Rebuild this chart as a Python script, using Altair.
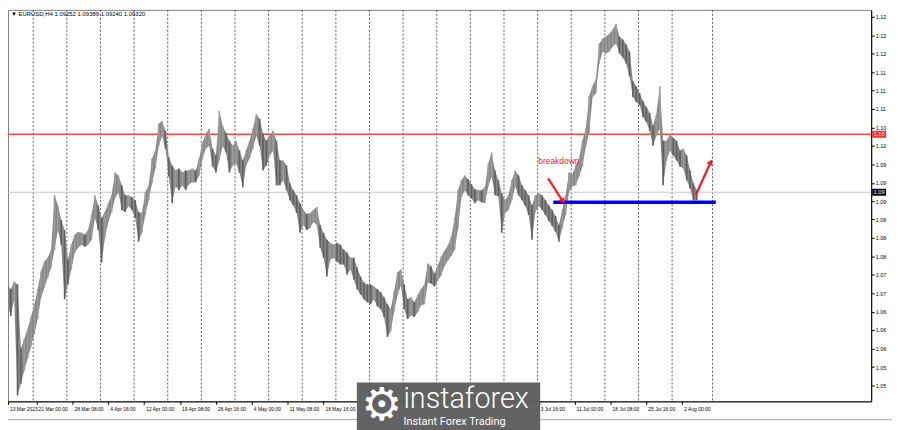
import altair as alt
import pandas as pd

# EURUSD H4: high / low read every 3 bars (bar index from chart start)
highs = [1.0754, 1.0750, 1.0740, 1.0756, 1.0750, 1.0620, 1.0640, 1.0660, 1.0684, 1.0710,
         1.0740, 1.0776, 1.0796, 1.0804, 1.0820, 1.0930, 1.0910, 1.0880, 1.0860, 1.0800,
         1.0830, 1.0850, 1.0856, 1.0854, 1.0850, 1.0860, 1.0890, 1.0930, 1.0910, 1.0884,
         1.0896, 1.0914, 1.0930, 1.0976, 1.0970, 1.0950, 1.0930, 1.0930, 1.0926, 1.0920,
         1.0896, 1.0894, 1.0936, 1.0950, 1.1004, 1.1020, 1.1074, 1.1080, 1.1060, 1.1006,
         1.0990, 1.0980, 1.0984, 1.0976, 1.0980, 1.0980, 1.0984, 1.0980, 1.1004, 1.1036,
         1.1054, 1.1064, 1.1024, 1.1010, 1.1100, 1.1070, 1.1056, 1.1040, 1.1030, 1.1040,
         1.1020, 1.1000, 1.1020, 1.1040, 1.1064, 1.1094, 1.1084, 1.1054, 1.1040, 1.1050,
         1.1060, 1.1040, 1.1000, 1.1000, 1.0990, 1.0954, 1.0940, 1.0930, 1.0914, 1.0900,
         1.0892, 1.0894, 1.0900, 1.0906, 1.0870, 1.0854, 1.0840, 1.0834, 1.0830, 1.0834,
         1.0830, 1.0820, 1.0814, 1.0804, 1.0804, 1.0784, 1.0766, 1.0754, 1.0750, 1.0750,
         1.0746, 1.0740, 1.0734, 1.0724, 1.0710, 1.0700, 1.0736, 1.0774, 1.0780, 1.0750,
         1.0720, 1.0724, 1.0714, 1.0728, 1.0740, 1.0750, 1.0792, 1.0786, 1.0772, 1.0788,
         1.0806, 1.0818, 1.0828, 1.0846, 1.0884, 1.0940, 1.0960, 1.0970, 1.0962, 1.0952,
         1.0942, 1.0940, 1.0940, 1.0946, 1.0994, 1.1016, 1.0980, 1.0960, 1.0934, 1.0920,
         1.0930, 1.0960, 1.0980, 1.0970, 1.0950, 1.0940, 1.0930, 1.0910, 1.0930, 1.0934,
         1.0930, 1.0920, 1.0910, 1.0900, 1.0888, 1.0870, 1.0900, 1.0930, 1.0976, 1.0972,
         1.0990, 1.1004, 1.1040, 1.1064, 1.1130, 1.1150, 1.1164, 1.1236, 1.1246, 1.1250,
         1.1256, 1.1264, 1.1276, 1.1250, 1.1244, 1.1234, 1.1220, 1.1160, 1.1150, 1.1136,
         1.1120, 1.1108, 1.1096, 1.1070, 1.1094, 1.1150, 1.1040, 1.1040, 1.1052, 1.1046,
         1.1040, 1.1020, 1.1024, 1.1010, 1.0980, 1.0954, 1.0940]
lows = [1.0720, 1.0710, 1.0686, 1.0720, 1.0526, 1.0550, 1.0576, 1.0600, 1.0624, 1.0650,
        1.0680, 1.0724, 1.0744, 1.0764, 1.0784, 1.0820, 1.0860, 1.0830, 1.0720, 1.0750,
        1.0780, 1.0814, 1.0824, 1.0830, 1.0826, 1.0830, 1.0840, 1.0884, 1.0860, 1.0794,
        1.0844, 1.0876, 1.0896, 1.0924, 1.0936, 1.0900, 1.0896, 1.0908, 1.0900, 1.0884,
        1.0836, 1.0854, 1.0890, 1.0920, 1.0954, 1.0984, 1.1030, 1.1050, 1.1024, 1.0968,
        1.0914, 1.0948, 1.0940, 1.0950, 1.0940, 1.0952, 1.0956, 1.0956, 1.0970, 1.1004,
        1.1024, 1.1030, 1.0988, 1.0976, 1.1000, 1.1030, 1.1016, 1.0976, 1.0990, 1.0994,
        1.0976, 1.0946, 1.0990, 1.1004, 1.1024, 1.1050, 1.1030, 1.0980, 1.0990, 1.1010,
        1.1020, 1.0950, 1.0950, 1.0960, 1.0940, 1.0920, 1.0910, 1.0894, 1.0854, 1.0870,
        1.0860, 1.0864, 1.0876, 1.0870, 1.0824, 1.0804, 1.0766, 1.0800, 1.0804, 1.0796,
        1.0790, 1.0790, 1.0770, 1.0780, 1.0760, 1.0740, 1.0730, 1.0720, 1.0714, 1.0710,
        1.0720, 1.0706, 1.0700, 1.0684, 1.0644, 1.0656, 1.0696, 1.0728, 1.0748, 1.0700,
        1.0680, 1.0688, 1.0684, 1.0694, 1.0708, 1.0710, 1.0754, 1.0752, 1.0746, 1.0758,
        1.0768, 1.0788, 1.0798, 1.0808, 1.0820, 1.0864, 1.0926, 1.0940, 1.0930, 1.0924,
        1.0914, 1.0920, 1.0916, 1.0914, 1.0948, 1.0968, 1.0930, 1.0928, 1.0854, 1.0894,
        1.0900, 1.0920, 1.0948, 1.0930, 1.0920, 1.0908, 1.0890, 1.0840, 1.0896, 1.0908,
        1.0900, 1.0890, 1.0878, 1.0868, 1.0856, 1.0836, 1.0864, 1.0890, 1.0936, 1.0948,
        1.0950, 1.0968, 1.0988, 1.1028, 1.1056, 1.1128, 1.1136, 1.1196, 1.1220, 1.1216,
        1.1220, 1.1230, 1.1236, 1.1216, 1.1208, 1.1196, 1.1170, 1.1128, 1.1118, 1.1112,
        1.1088, 1.1078, 1.1060, 1.1030, 1.1050, 1.1064, 1.0950, 1.1000, 1.1020, 1.1010,
        1.1000, 1.0988, 1.0984, 1.0960, 1.0944, 1.0920, 1.0920]
BARS_PER_SAMPLE = 3
bars = list(range(0, BARS_PER_SAMPLE * len(highs), BARS_PER_SAMPLE))

# x-axis date labels (H4 bar index of each label); the ones under the watermark are not visible
label_bars = [3.5, 29, 61, 93, 125, 157, 189, 221, 253, 285, 477, 509, 541, 573, 605]
label_texts = ["13 Mar 2023", "21 Mar 00:00", "28 Mar 08:00", "4 Apr 16:00", "12 Apr 00:00",
               "19 Apr 08:00", "26 Apr 16:00", "4 May 00:00", "11 May 08:00", "18 May 16:00",
               "3 Jul 16:00", "11 Jul 00:00", "18 Jul 08:00", "25 Jul 16:00", "2 Aug 00:00"]
grid_bars = [26, 56, 86, 116, 146, 176, 206, 236, 266, 296, 326, 356, 386, 416, 446, 476, 506,
             536, 566, 596, 632]
y_ticks = [1.1290, 1.1253, 1.1216, 1.1178, 1.1141, 1.1104, 1.1067, 1.1030, 1.0992, 1.0955,
           1.0918, 1.0881, 1.0844, 1.0806, 1.0769, 1.0732, 1.0695, 1.0658, 1.0620, 1.0583, 1.0546]

header = "\u25bc EURUSD,H4  1.09252 1.09389 1.09240 1.09320"
resistance = 1.1053
bid = 1.0936
support = 1.0916
support_from, support_to = 490, 635
arrow1 = {"x": [485.4], "y": [1.0964], "x2": [497.5], "y2": [1.0921], "hx": [498.7], "hy": [1.0918]}
arrow2 = {"x": [617.0], "y": [1.0930], "x2": [629.5], "y2": [1.0992], "hx": [630.4], "hy": [1.0997]}
note = {"bar": [476.6], "price": [1.1000], "text": ["breakdown"]}

df = pd.DataFrame({"bar": bars, "high": highs, "low": lows})
mid = (df["high"] + df["low"]) / 2
df["dir"] = ["up" if i == 0 or mid[i] >= mid[i - 1] else "down" for i in range(len(df))]

xs = alt.Scale(domain=[3.5, 773.6], nice=False, zero=False)
ys = alt.Scale(domain=[1.0514, 1.1304], nice=False, zero=False)

bars_js = "[" + ",".join(str(b) for b in label_bars) + "]"
texts_js = "[" + ",".join("'" + t + "'" for t in label_texts) + "]"

x_axis = alt.Axis(values=label_bars, labelExpr=f"{texts_js}[indexof({bars_js}, datum.value)]",
                  title=None, grid=False, orient="bottom", tickSize=3, labelAlign="left",
                  labelOffset=1.5, labelPadding=2, labelFlush=False, labelOverlap=False,
                  labelFontSize=5, labelFont="Liberation Sans", labelColor="#000",
                  domainColor="#000", tickColor="#000", zindex=0)
y_axis = alt.Axis(values=y_ticks, labelExpr="format(floor(datum.value*100)/100, '.2f')",
                  title=None, grid=False, orient="right", tickSize=3, labelPadding=1,
                  labelOverlap=False, labelFontSize=5.5, labelFont="Liberation Sans",
                  labelColor="#000", domainColor="#000", tickColor="#000", labelFlush=False,
                  zindex=0)


def X(field):
    return alt.X(field, scale=xs, axis=x_axis)


def Y(field):
    return alt.Y(field, scale=ys, axis=y_axis)


grid = alt.Chart(pd.DataFrame({"bar": grid_bars})).mark_rule(
    color="#5a5a5a", strokeDash=[2, 2], strokeWidth=1).encode(x=X("bar:Q"))

band = alt.Chart(df).mark_area(color="#888888", clip=True, interpolate="linear").encode(
    x=X("bar:Q"), y=Y("high:Q"), y2="low:Q")

candles = alt.Chart(df).mark_rule(strokeWidth=1.6, strokeCap="butt", clip=True).encode(
    x=X("bar:Q"), y=Y("high:Q"), y2="low:Q",
    color=alt.Color("dir:N", scale=alt.Scale(domain=["up", "down"], range=["#9c9c9c", "#5f5f5f"]),
                    legend=None))

bid_line = alt.Chart(pd.DataFrame({"p": [bid]})).mark_rule(color="#c8c8c8", strokeWidth=1).encode(
    y=Y("p:Q"))
res_line = alt.Chart(pd.DataFrame({"p": [resistance]})).mark_rule(color="#ff4545", strokeWidth=1.5).encode(
    y=Y("p:Q"))
sup_line = alt.Chart(pd.DataFrame({"a": [support_from], "b": [support_to], "p": [support]})).mark_rule(
    color="#0000ff", strokeWidth=3.5).encode(x=X("a:Q"), x2="b:Q", y=Y("p:Q"))


def arrow(d, angle):
    src = pd.DataFrame(d)
    shaft = alt.Chart(src).mark_rule(color="#ff1a1a", strokeWidth=2.2).encode(
        x=X("x:Q"), x2="x2:Q", y=Y("y:Q"), y2="y2:Q")
    head = alt.Chart(src).mark_point(shape="triangle-up", filled=True, color="#ff1a1a",
                                     size=45, angle=angle, opacity=1).encode(
        x=X("hx:Q"), y=Y("hy:Q"))
    return shaft + head


note_text = alt.Chart(pd.DataFrame(note)).mark_text(
    align="left", baseline="middle", fontSize=8.5, color="#ff2020", font="Liberation Sans").encode(
    x=X("bar:Q"), y=Y("price:Q"), text="text:N")

tag_shape = "M-1,-0.5L1,-0.5L1,0.5L-1,0.5Z"


def price_tag(price, txt, fill):
    src = pd.DataFrame({"p": [price], "txt": [txt]})
    box = alt.Chart(src).mark_point(shape=tag_shape, filled=True, size=196, opacity=1,
                                    color=fill, strokeWidth=0).encode(
        x=alt.value(879), y=Y("p:Q"))
    label = alt.Chart(src).mark_text(fontSize=5.5, color="#ffffff", font="Liberation Sans",
                                     baseline="middle").encode(
        x=alt.value(879), y=Y("p:Q"), text="txt:N")
    return box + label


head_text = alt.Chart(pd.DataFrame({"t": [header]})).mark_text(
    align="left", baseline="top", fontSize=6, color="#000", font="Liberation Sans").encode(
    x=alt.value(3), y=alt.value(1), text="t:N")

frame_bottom = alt.Chart(pd.DataFrame({"k": [1]})).mark_rule(color="#a8a8a8", strokeWidth=1).encode(
    x=alt.value(-8), x2=alt.value(892), y=alt.value(413.5))

logo_box = alt.Chart(pd.DataFrame({"k": [1]})).mark_rect(color="#5e5e5e", opacity=0.97).encode(
    x=alt.value(352), x2=alt.value(537), y=alt.value(376), y2=alt.value(426))
logo_gear = alt.Chart(pd.DataFrame({"t": ["\u2699"]})).mark_text(
    fontSize=46, color="#ffffff", font="DejaVu Sans", baseline="middle").encode(
    x=alt.value(377), y=alt.value(400), text="t:N")
logo_name = alt.Chart(pd.DataFrame({"t": ["instaforex"]})).mark_text(
    fontSize=29, color="#ffffff", font="Roboto", fontWeight=300, align="left",
    baseline="alphabetic").encode(x=alt.value(399), y=alt.value(402), text="t:N")
logo_sub = alt.Chart(pd.DataFrame({"t": ["Instant Forex Trading"]})).mark_text(
    fontSize=11, color="#ffffff", font="Roboto", align="left", baseline="alphabetic").encode(
    x=alt.value(399), y=alt.value(418.5), text="t:N")

chart = alt.layer(
    grid, bid_line, res_line, band, candles, sup_line, arrow(arrow1, 147), arrow(arrow2, 24),
    note_text, price_tag(resistance, "1.10", "#ff2a2a"), price_tag(bid, "1.09", "#000000"),
    head_text, frame_bottom, logo_box, logo_gear, logo_name, logo_sub
).properties(
    width=871, height=395,
    autosize=alt.AutoSizeParams(type="none"),
    padding={"left": 0, "top": 0, "right": 21, "bottom": 27},
    background="#ffffff",
).configure_view(stroke="#7f7f7f", strokeWidth=1)

chart.save("out.html", embed_options={"renderer": "svg", "actions": False})
